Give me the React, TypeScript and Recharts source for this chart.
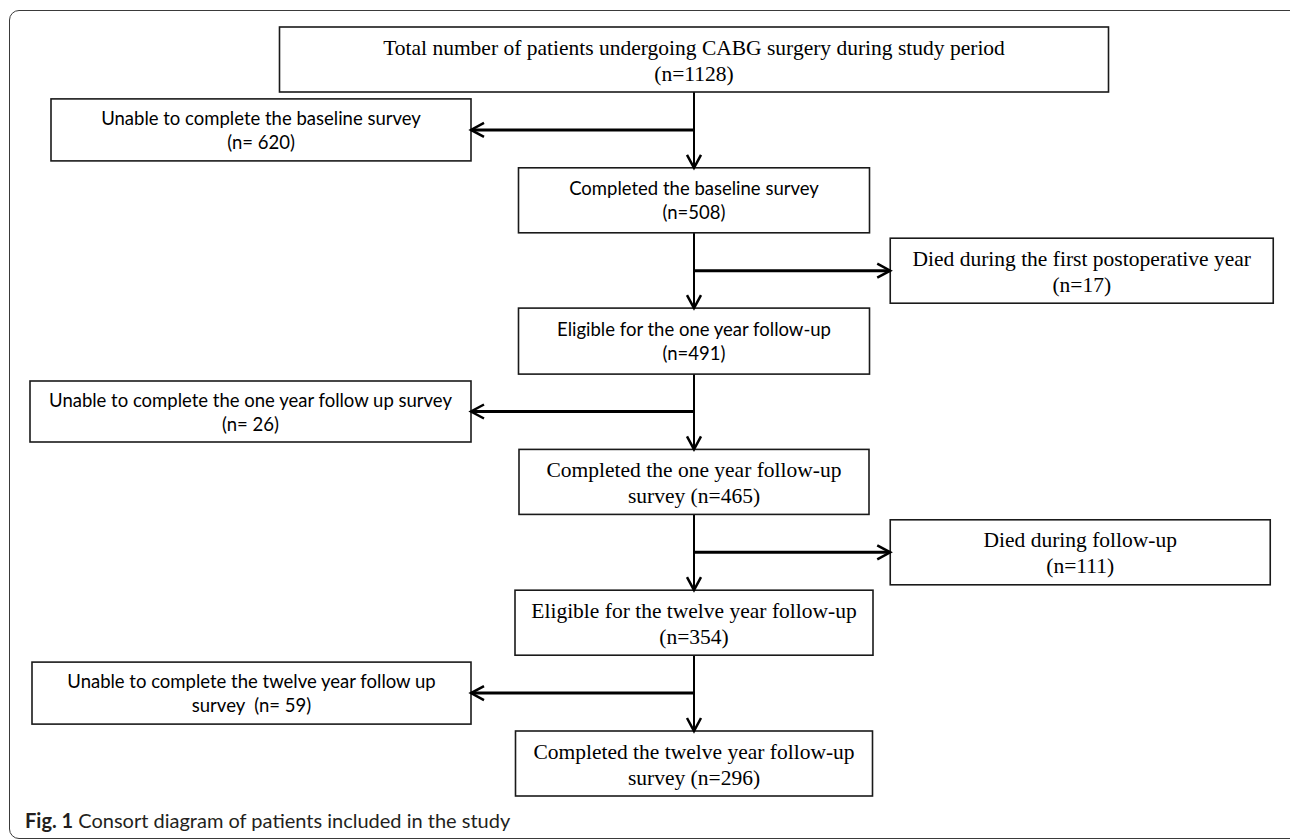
import { ScatterChart, Scatter, XAxis, YAxis, ReferenceLine } from 'recharts';

// one entry per box, top to bottom
const titles = [
  'Total number of patients undergoing CABG surgery during study period',
  'Unable to complete the baseline survey',
  'Completed the baseline survey',
  'Died during the first postoperative year',
  'Eligible for the one year follow-up',
  'Unable to complete the one year follow up survey',
  'Completed the one year follow-up',
  'Died during follow-up',
  'Eligible for the twelve year follow-up',
  'Unable to complete the twelve year follow up',
  'Completed the twelve year follow-up',
];
const counts = [1128, 620, 508, 17, 491, 26, 465, 111, 354, 59, 296];
const countPrefix = ['', '', '', '', '', '', 'survey ', '', '', 'survey  ', 'survey '];
const lanes = ['main', 'excluded', 'main', 'died', 'main', 'excluded', 'main', 'died', 'main', 'excluded', 'main'];

// layout / style
const laneX: Record<string, number> = { excluded: -1, main: 0, died: 0.88 };
const boxWidths = [829, 420, 351, 383, 351, 441, 350, 380, 358, 439, 357];
const boxHeights = [65, 62, 65, 65, 66, 61, 65, 65, 65, 62, 65];
const serifBox = [true, false, false, true, false, false, true, true, true, false, true];

const SERIF = "'Liberation Serif', 'Times New Roman', serif";
const SANS = "Lato, 'Noto Sans', sans-serif";

const boxes = titles.map((title, i) => ({
  step: i,
  x: laneX[lanes[i]],
  lane: lanes[i],
  line1: title,
  line2: `${countPrefix[i]}(n=${lanes[i] === 'excluded' ? ' ' : ''}${counts[i]})`,
  width: boxWidths[i],
  height: boxHeights[i],
  serif: serifBox[i],
}));

function FlowBox(props: any) {
  const { cx, cy, payload } = props;
  const { width, height, lane, serif, line1, line2, step } = payload;
  let left = cx - width / 2;
  if (lane === 'excluded') left = cx - width;
  if (lane === 'died') left = cx;
  const top = cy - height / 2;
  const mid = left + width / 2;

  let head = '';
  if (lane === 'main' && step > 0) head = `M${cx - 7},${top - 13} L${cx},${top} L${cx + 7},${top - 13}`;
  if (lane === 'excluded') head = `M${cx + 13},${cy - 7} L${cx},${cy} L${cx + 13},${cy + 7}`;
  if (lane === 'died') head = `M${cx - 13},${cy - 7} L${cx},${cy} L${cx - 13},${cy + 7}`;

  const font = serif ? SERIF : SANS;
  const size = serif ? 21.5 : 18.5;
  return (
    <g>
      <rect x={left} y={top} width={width} height={height} fill="#fff" stroke="#1a1a1a" strokeWidth={1.6} />
      {head && <path d={head} fill="none" stroke="#000" strokeWidth={2.5} />}
      <text x={mid} y={cy - 5} textAnchor="middle" fontFamily={font} fontSize={size} fill="#000" style={{ whiteSpace: 'pre' }}>
        {line1}
      </text>
      <text x={mid} y={cy + (serif ? 21 : 19)} textAnchor="middle" fontFamily={font} fontSize={size} fill="#000" style={{ whiteSpace: 'pre' }}>
        {line2}
      </text>
    </g>
  );
}

export default function App() {
  const sideBoxes = boxes.filter((b) => b.lane !== 'main');
  return (
    <div style={{ position: 'absolute', left: 0, top: 0, width: 1290, height: 839, background: '#fff', overflow: 'hidden' }}>
      <div
        style={{
          position: 'absolute',
          left: 9,
          top: 10,
          width: 1290,
          height: 827,
          border: '1.5px solid #3a3a3a',
          borderRadius: 10,
        }}
      />
      <ScatterChart width={1290} height={839} margin={{ top: 59.5, bottom: 75.5, left: 471, right: 373 }} style={{ position: 'absolute', left: 0, top: 0 }}>
        <XAxis type="number" dataKey="x" domain={[-1, 1]} hide />
        <YAxis type="number" dataKey="step" domain={[0, 10]} reversed hide />
        <ReferenceLine segment={[{ x: 0, y: 0 }, { x: 0, y: 10 }]} stroke="#000" strokeWidth={2} zIndex={100} />
        {sideBoxes.map((b) => (
          <ReferenceLine
            key={b.step}
            segment={[{ x: 0, y: b.step }, { x: b.x, y: b.step }]}
            stroke="#000"
            strokeWidth={3}
            zIndex={100}
          />
        ))}
        <Scatter data={boxes} shape={FlowBox} isAnimationActive={false} zIndex={700} />
      </ScatterChart>
      <div style={{ position: 'absolute', left: 25, top: 808, fontFamily: SANS, fontSize: 20, color: '#231f20' }}>
        <b>Fig. 1</b> Consort diagram of patients included in the study
      </div>
    </div>
  );
}
